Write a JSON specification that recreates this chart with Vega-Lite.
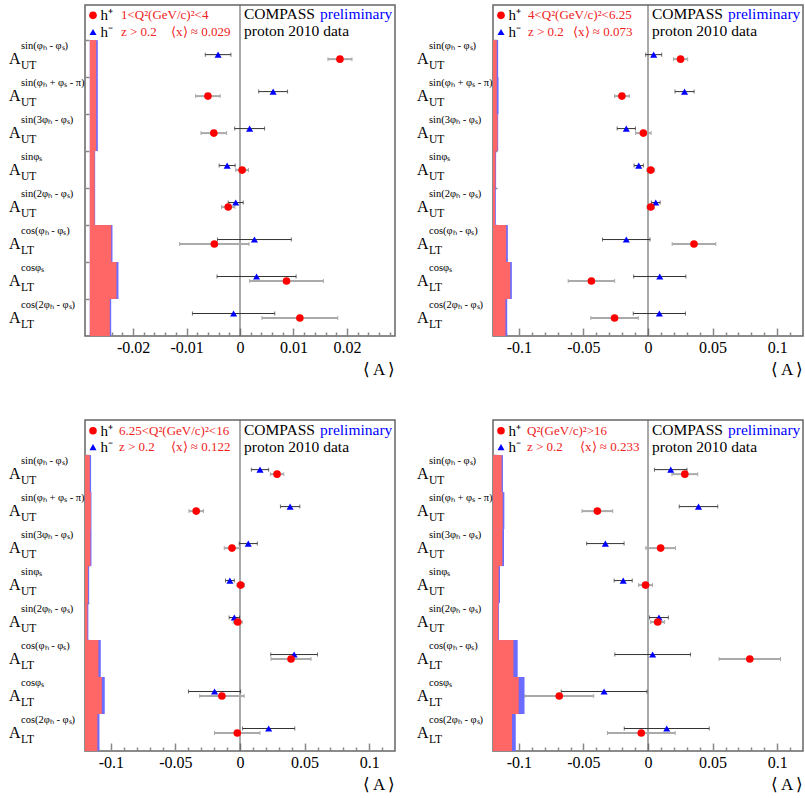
{
  "$schema": "https://vega.github.io/schema/vega-lite/v6.json",
  "background": "white",
  "padding": {"left": 8, "top": 3, "right": 0, "bottom": 0},
  "config": {
    "font": "Liberation Serif",
    "view": {"stroke": "#666", "strokeWidth": 1.5},
    "axis": {"grid": false, "labelFont": "Liberation Serif", "titleFont": "Liberation Serif"}
  },
  "datasets": {
    "labels": [
      {"row": 1, "base": "A", "sub": "UT", "sup": "sin(φₕ - φₛ)"},
      {"row": 2, "base": "A", "sub": "UT", "sup": "sin(φₕ + φₛ - π)"},
      {"row": 3, "base": "A", "sub": "UT", "sup": "sin(3φₕ - φₛ)"},
      {"row": 4, "base": "A", "sub": "UT", "sup": "sinφₛ"},
      {"row": 5, "base": "A", "sub": "UT", "sup": "sin(2φₕ - φₛ)"},
      {"row": 6, "base": "A", "sub": "LT", "sup": "cos(φₕ - φₛ)"},
      {"row": 7, "base": "A", "sub": "LT", "sup": "cosφₛ"},
      {"row": 8, "base": "A", "sub": "LT", "sup": "cos(2φₕ - φₛ)"}
    ],
    "p1": [
      {"row": 1, "hp": 0.0187, "hpe": 0.00225, "hm": -0.0041, "hme": 0.0024, "b0": -0.0281, "hpb": -0.0269, "hmb": -0.0266},
      {"row": 2, "hp": -0.0060, "hpe": 0.0023, "hm": 0.0062, "hme": 0.0027, "b0": -0.0281, "hpb": -0.0269, "hmb": -0.0266},
      {"row": 3, "hp": -0.0049, "hpe": 0.0024, "hm": 0.0018, "hme": 0.0028, "b0": -0.0281, "hpb": -0.0269, "hmb": -0.0266},
      {"row": 4, "hp": 0.0004, "hpe": 0.0012, "hm": -0.0024, "hme": 0.0015, "b0": -0.0281, "hpb": -0.0272, "hmb": -0.0271},
      {"row": 5, "hp": -0.0022, "hpe": 0.00125, "hm": -0.0008, "hme": 0.0014, "b0": -0.0281, "hpb": -0.0272, "hmb": -0.0271},
      {"row": 6, "hp": -0.0048, "hpe": 0.0065, "hm": 0.0027, "hme": 0.0069, "b0": -0.0281, "hpb": -0.0241, "hmb": -0.02386},
      {"row": 7, "hp": 0.0087, "hpe": 0.0069, "hm": 0.0031, "hme": 0.0074, "b0": -0.0281, "hpb": -0.02311, "hmb": -0.02274},
      {"row": 8, "hp": 0.0112, "hpe": 0.0071, "hm": -0.0012, "hme": 0.0077, "b0": -0.0281, "hpb": -0.02435, "hmb": -0.0241}
    ],
    "p2": [
      {"row": 1, "hp": 0.0252, "hpe": 0.0055, "hm": 0.0044, "hme": 0.0062, "b0": -0.12, "hpb": -0.1171, "hmb": -0.1160},
      {"row": 2, "hp": -0.0202, "hpe": 0.0057, "hm": 0.0283, "hme": 0.0074, "b0": -0.12, "hpb": -0.1171, "hmb": -0.1157},
      {"row": 3, "hp": -0.0036, "hpe": 0.0060, "hm": -0.0168, "hme": 0.0071, "b0": -0.12, "hpb": -0.1165, "hmb": -0.1160},
      {"row": 4, "hp": 0.0021, "hpe": 0.0030, "hm": -0.0072, "hme": 0.0036, "b0": -0.12, "hpb": -0.1181, "hmb": -0.1176},
      {"row": 5, "hp": 0.0021, "hpe": 0.0029, "hm": 0.0060, "hme": 0.0034, "b0": -0.12, "hpb": -0.1184, "hmb": -0.1178},
      {"row": 6, "hp": 0.0356, "hpe": 0.0169, "hm": -0.0168, "hme": 0.0184, "b0": -0.12, "hpb": -0.1098, "hmb": -0.1085},
      {"row": 7, "hp": -0.0438, "hpe": 0.0180, "hm": 0.0091, "hme": 0.0202, "b0": -0.12, "hpb": -0.1067, "hmb": -0.1054},
      {"row": 8, "hp": -0.0259, "hpe": 0.0184, "hm": 0.0088, "hme": 0.0202, "b0": -0.12, "hpb": -0.1103, "hmb": -0.1090}
    ],
    "p3": [
      {"row": 1, "hp": 0.0287, "hpe": 0.0052, "hm": 0.0155, "hme": 0.0067, "b0": -0.12, "hpb": -0.1163, "hmb": -0.1153},
      {"row": 2, "hp": -0.0339, "hpe": 0.0056, "hm": 0.0388, "hme": 0.0075, "b0": -0.12, "hpb": -0.1155, "hmb": -0.1150},
      {"row": 3, "hp": -0.0062, "hpe": 0.0060, "hm": 0.0064, "hme": 0.0070, "b0": -0.12, "hpb": -0.1158, "hmb": -0.1150},
      {"row": 4, "hp": 0.0005, "hpe": 0.0030, "hm": -0.0078, "hme": 0.0034, "b0": -0.12, "hpb": -0.1176, "hmb": -0.1168},
      {"row": 5, "hp": -0.0018, "hpe": 0.0035, "hm": -0.0044, "hme": 0.0040, "b0": -0.12, "hpb": -0.1181, "hmb": -0.1174},
      {"row": 6, "hp": 0.0395, "hpe": 0.0155, "hm": 0.0419, "hme": 0.0181, "b0": -0.12, "hpb": -0.1096, "hmb": -0.1078},
      {"row": 7, "hp": -0.0140, "hpe": 0.0172, "hm": -0.0197, "hme": 0.0202, "b0": -0.12, "hpb": -0.1070, "hmb": -0.1047},
      {"row": 8, "hp": -0.0021, "hpe": 0.0176, "hm": 0.0222, "hme": 0.0202, "b0": -0.12, "hpb": -0.1104, "hmb": -0.1088}
    ],
    "p4": [
      {"row": 1, "hp": 0.0285, "hpe": 0.0100, "hm": 0.0176, "hme": 0.0126, "b0": -0.12, "hpb": -0.1133, "hmb": -0.1123},
      {"row": 2, "hp": -0.0392, "hpe": 0.0119, "hm": 0.0391, "hme": 0.0149, "b0": -0.12, "hpb": -0.1125, "hmb": -0.1112},
      {"row": 3, "hp": 0.0098, "hpe": 0.0115, "hm": -0.0330, "hme": 0.0145, "b0": -0.12, "hpb": -0.1128, "hmb": -0.1115},
      {"row": 4, "hp": -0.0019, "hpe": 0.0054, "hm": -0.0192, "hme": 0.0070, "b0": -0.12, "hpb": -0.1156, "hmb": -0.1146},
      {"row": 5, "hp": 0.0075, "hpe": 0.0054, "hm": 0.0085, "hme": 0.0073, "b0": -0.12, "hpb": -0.1159, "hmb": -0.1154},
      {"row": 6, "hp": 0.0788, "hpe": 0.0238, "hm": 0.0036, "hme": 0.0293, "b0": -0.12, "hpb": -0.1042, "hmb": -0.1009},
      {"row": 7, "hp": -0.0687, "hpe": 0.0267, "hm": -0.0340, "hme": 0.0332, "b0": -0.12, "hpb": -0.1001, "hmb": -0.0956},
      {"row": 8, "hp": -0.0052, "hpe": 0.0262, "hm": 0.0145, "hme": 0.0329, "b0": -0.12, "hpb": -0.1053, "hmb": -0.1024}
    ]
  },
  "spacing": 40,
  "vconcat": [
    {
      "bounds": "flush",
      "spacing": 98,
      "hconcat": [
        {
          "width": 310, "height": 331,
          "resolve": {"axis": {"x": "independent"}},
          "layer": [
            {"data": {"values": [{}]}, "mark": {"type": "rule", "color": "#555", "strokeWidth": 1},
             "encoding": {"x": {"datum": 0, "type": "quantitative", "axis": {"orient": "bottom", "values": [-0.028,-0.026,-0.024,-0.022,-0.018,-0.016,-0.014,-0.012,-0.008,-0.006,-0.004,-0.002,0.002,0.004,0.006,0.008,0.012,0.014,0.016,0.018,0.022,0.024,0.026,0.028], "labels": false, "domain": false, "tickSize": -4, "tickColor": "#888", "tickWidth": 1.5, "title": null}}}},
            {"data": {"name": "p1"},
             "layer": [
              {"mark": {"type": "bar", "color": "#6b6bff", "size": 37},
               "encoding": {
                 "x": {"field": "b0", "type": "quantitative", "title": "⟨ A ⟩", "scale": {"domain": [-0.029, 0.029], "nice": false, "zero": false, "padding": 0},
                       "axis": {"orient": "bottom", "values": [-0.02,-0.01,0,0.01,0.02], "labelExpr": "datum.value == 0 ? '0' : (datum.value < 0 ? '-' : '') + format(abs(datum.value), '.2~f')", "domain": false, "tickSize": -8, "tickColor": "#888", "tickWidth": 1.5, "labelFontSize": 16, "labelColor": "#000", "labelPadding": 11, "labelFlush": false, "labelOverlap": false, "titleAnchor": "end", "titleAlign": "right", "titleFontSize": 17, "titleFontWeight": "normal", "titleColor": "#000", "titlePadding": 6}},
                 "x2": {"field": "hmb"},
                 "y": {"field": "row", "type": "quantitative", "title": null, "scale": {"domain": [-0.45, 8.5], "reverse": true, "nice": false, "zero": false, "padding": 0},
                       "axis": {"values": [0.5,1.5,2.5,3.5,4.5,5.5,6.5,7.5], "labels": false, "domain": false, "tickSize": -4, "tickColor": "#888", "tickWidth": 1.5}}
               }},
              {"mark": {"type": "bar", "color": "#ff6666", "size": 37},
               "encoding": {"x": {"field": "b0", "type": "quantitative", "title": "⟨ A ⟩"}, "x2": {"field": "hpb"}, "y": {"field": "row", "type": "quantitative", "title": null}}},
              {"mark": {"type": "errorbar", "ticks": {"size": 4, "color": "#333", "yOffset": -4}, "rule": {"color": "#333", "strokeWidth": 1, "yOffset": -4}},
               "encoding": {"x": {"field": "hm", "type": "quantitative", "title": "⟨ A ⟩"}, "xError": {"field": "hme"}, "y": {"field": "row", "type": "quantitative", "title": null}}},
              {"mark": {"type": "errorbar", "ticks": {"size": 4, "color": "#888", "yOffset": 0.5}, "rule": {"color": "#aaa", "strokeWidth": 2, "yOffset": 0.5}},
               "encoding": {"x": {"field": "hp", "type": "quantitative", "title": "⟨ A ⟩"}, "xError": {"field": "hpe"}, "y": {"field": "row", "type": "quantitative", "title": null}}},
              {"mark": {"type": "point", "shape": "triangle-up", "filled": true, "size": 50, "color": "#0000ff", "opacity": 1, "yOffset": -4},
               "encoding": {"x": {"field": "hm", "type": "quantitative", "title": "⟨ A ⟩"}, "y": {"field": "row", "type": "quantitative", "title": null}}},
              {"mark": {"type": "point", "shape": "circle", "filled": true, "size": 58, "color": "#ff0000", "opacity": 1, "yOffset": 0.5},
               "encoding": {"x": {"field": "hp", "type": "quantitative", "title": "⟨ A ⟩"}, "y": {"field": "row", "type": "quantitative", "title": null}}},
              {"data": {"name": "labels"}, "mark": {"type": "text", "align": "left", "baseline": "alphabetic", "dx": -76, "dy": 5.5, "fontSize": 16, "color": "#000"},
               "encoding": {"x": {"datum": -0.029, "type": "quantitative"}, "y": {"field": "row", "type": "quantitative", "title": null}, "text": {"field": "base"}}},
              {"data": {"name": "labels"}, "mark": {"type": "text", "align": "left", "baseline": "alphabetic", "dx": -64, "dy": -10, "fontSize": 10.5, "color": "#000"},
               "encoding": {"x": {"datum": -0.029, "type": "quantitative"}, "y": {"field": "row", "type": "quantitative", "title": null}, "text": {"field": "sup"}}},
              {"data": {"name": "labels"}, "mark": {"type": "text", "align": "left", "baseline": "alphabetic", "dx": -64, "dy": 10, "fontSize": 11.5, "color": "#000"},
               "encoding": {"x": {"datum": -0.029, "type": "quantitative"}, "y": {"field": "row", "type": "quantitative", "title": null}, "text": {"field": "sub"}}},
              {"data": {"values": [{}]}, "mark": {"type": "point", "shape": "circle", "filled": true, "size": 58, "color": "#ff0000", "opacity": 1, "xOffset": 8},
               "encoding": {"x": {"datum": -0.029, "type": "quantitative"}, "y": {"datum": -0.17, "type": "quantitative"}}},
              {"data": {"values": [{}]}, "mark": {"type": "point", "shape": "triangle-up", "filled": true, "size": 50, "color": "#0000ff", "opacity": 1, "xOffset": 8},
               "encoding": {"x": {"datum": -0.029, "type": "quantitative"}, "y": {"datum": 0.28, "type": "quantitative"}}},
              {"data": {"values": [{}]}, "mark": {"type": "text", "align": "left", "baseline": "middle", "dx": 15.5, "fontSize": 15, "color": "#000"},
               "encoding": {"x": {"datum": -0.029, "type": "quantitative"}, "y": {"datum": -0.17, "type": "quantitative"}, "text": {"value": "h⁺"}}},
              {"data": {"values": [{}]}, "mark": {"type": "text", "align": "left", "baseline": "middle", "dx": 15.5, "fontSize": 15, "color": "#000"},
               "encoding": {"x": {"datum": -0.029, "type": "quantitative"}, "y": {"datum": 0.28, "type": "quantitative"}, "text": {"value": "h⁻"}}},
              {"data": {"values": [{}]}, "mark": {"type": "text", "align": "left", "baseline": "middle", "dx": 36, "fontSize": 13, "color": "#ee2222"},
               "encoding": {"x": {"datum": -0.029, "type": "quantitative"}, "y": {"datum": -0.17, "type": "quantitative"}, "text": {"value": "1<Q²(GeV/c)²<4"}}},
              {"data": {"values": [{}]}, "mark": {"type": "text", "align": "left", "baseline": "middle", "dx": 36, "fontSize": 13, "color": "#ee2222"},
               "encoding": {"x": {"datum": -0.029, "type": "quantitative"}, "y": {"datum": 0.28, "type": "quantitative"}, "text": {"value": "z > 0.2"}}},
              {"data": {"values": [{}]}, "mark": {"type": "text", "align": "left", "baseline": "middle", "dx": 86, "fontSize": 13, "color": "#ee2222"},
               "encoding": {"x": {"datum": -0.029, "type": "quantitative"}, "y": {"datum": 0.28, "type": "quantitative"}, "text": {"value": "⟨x⟩ ≈ 0.029"}}},
              {"data": {"values": [{}]}, "mark": {"type": "text", "align": "left", "baseline": "middle", "dx": 4, "fontSize": 15.5, "color": "#000"},
               "encoding": {"x": {"datum": 0, "type": "quantitative"}, "y": {"datum": -0.2, "type": "quantitative"}, "text": {"value": "COMPASS"}}},
              {"data": {"values": [{}]}, "mark": {"type": "text", "align": "left", "baseline": "middle", "dx": 80, "fontSize": 15.5, "color": "#0000ff"},
               "encoding": {"x": {"datum": 0, "type": "quantitative"}, "y": {"datum": -0.2, "type": "quantitative"}, "text": {"value": "preliminary"}}},
              {"data": {"values": [{}]}, "mark": {"type": "text", "align": "left", "baseline": "middle", "dx": 4, "fontSize": 15.5, "color": "#000"},
               "encoding": {"x": {"datum": 0, "type": "quantitative"}, "y": {"datum": 0.26, "type": "quantitative"}, "text": {"value": "proton 2010 data"}}}
             ]}
          ]
        },
        {
          "width": 310, "height": 331,
          "resolve": {"axis": {"x": "independent"}},
          "layer": [
            {"data": {"values": [{}]}, "mark": {"type": "rule", "color": "#555", "strokeWidth": 1},
             "encoding": {"x": {"datum": 0, "type": "quantitative", "axis": {"orient": "bottom", "values": [-0.11,-0.09,-0.08,-0.07,-0.06,-0.04,-0.03,-0.02,-0.01,0.01,0.02,0.03,0.04,0.06,0.07,0.08,0.09,0.11], "labels": false, "domain": false, "tickSize": -4, "tickColor": "#888", "tickWidth": 1.5, "title": null}}}},
            {"data": {"name": "p2"},
             "layer": [
              {"mark": {"type": "bar", "color": "#6b6bff", "size": 37},
               "encoding": {
                 "x": {"field": "b0", "type": "quantitative", "title": "⟨ A ⟩", "scale": {"domain": [-0.12, 0.12], "nice": false, "zero": false, "padding": 0},
                       "axis": {"orient": "bottom", "values": [-0.1,-0.05,0,0.05,0.1], "labelExpr": "datum.value == 0 ? '0' : (datum.value < 0 ? '-' : '') + format(abs(datum.value), '.2~f')", "domain": false, "tickSize": -8, "tickColor": "#888", "tickWidth": 1.5, "labelFontSize": 16, "labelColor": "#000", "labelPadding": 11, "labelFlush": false, "labelOverlap": false, "titleAnchor": "end", "titleAlign": "right", "titleFontSize": 17, "titleFontWeight": "normal", "titleColor": "#000", "titlePadding": 6}},
                 "x2": {"field": "hmb"},
                 "y": {"field": "row", "type": "quantitative", "title": null, "scale": {"domain": [-0.45, 8.5], "reverse": true, "nice": false, "zero": false, "padding": 0},
                       "axis": {"values": [0.5,1.5,2.5,3.5,4.5,5.5,6.5,7.5], "labels": false, "domain": false, "tickSize": -4, "tickColor": "#888", "tickWidth": 1.5}}
               }},
              {"mark": {"type": "bar", "color": "#ff6666", "size": 37},
               "encoding": {"x": {"field": "b0", "type": "quantitative", "title": "⟨ A ⟩"}, "x2": {"field": "hpb"}, "y": {"field": "row", "type": "quantitative", "title": null}}},
              {"mark": {"type": "errorbar", "ticks": {"size": 4, "color": "#333", "yOffset": -4}, "rule": {"color": "#333", "strokeWidth": 1, "yOffset": -4}},
               "encoding": {"x": {"field": "hm", "type": "quantitative", "title": "⟨ A ⟩"}, "xError": {"field": "hme"}, "y": {"field": "row", "type": "quantitative", "title": null}}},
              {"mark": {"type": "errorbar", "ticks": {"size": 4, "color": "#888", "yOffset": 0.5}, "rule": {"color": "#aaa", "strokeWidth": 2, "yOffset": 0.5}},
               "encoding": {"x": {"field": "hp", "type": "quantitative", "title": "⟨ A ⟩"}, "xError": {"field": "hpe"}, "y": {"field": "row", "type": "quantitative", "title": null}}},
              {"mark": {"type": "point", "shape": "triangle-up", "filled": true, "size": 50, "color": "#0000ff", "opacity": 1, "yOffset": -4},
               "encoding": {"x": {"field": "hm", "type": "quantitative", "title": "⟨ A ⟩"}, "y": {"field": "row", "type": "quantitative", "title": null}}},
              {"mark": {"type": "point", "shape": "circle", "filled": true, "size": 58, "color": "#ff0000", "opacity": 1, "yOffset": 0.5},
               "encoding": {"x": {"field": "hp", "type": "quantitative", "title": "⟨ A ⟩"}, "y": {"field": "row", "type": "quantitative", "title": null}}},
              {"data": {"name": "labels"}, "mark": {"type": "text", "align": "left", "baseline": "alphabetic", "dx": -76, "dy": 5.5, "fontSize": 16, "color": "#000"},
               "encoding": {"x": {"datum": -0.12, "type": "quantitative"}, "y": {"field": "row", "type": "quantitative", "title": null}, "text": {"field": "base"}}},
              {"data": {"name": "labels"}, "mark": {"type": "text", "align": "left", "baseline": "alphabetic", "dx": -64, "dy": -10, "fontSize": 10.5, "color": "#000"},
               "encoding": {"x": {"datum": -0.12, "type": "quantitative"}, "y": {"field": "row", "type": "quantitative", "title": null}, "text": {"field": "sup"}}},
              {"data": {"name": "labels"}, "mark": {"type": "text", "align": "left", "baseline": "alphabetic", "dx": -64, "dy": 10, "fontSize": 11.5, "color": "#000"},
               "encoding": {"x": {"datum": -0.12, "type": "quantitative"}, "y": {"field": "row", "type": "quantitative", "title": null}, "text": {"field": "sub"}}},
              {"data": {"values": [{}]}, "mark": {"type": "point", "shape": "circle", "filled": true, "size": 58, "color": "#ff0000", "opacity": 1, "xOffset": 8},
               "encoding": {"x": {"datum": -0.12, "type": "quantitative"}, "y": {"datum": -0.17, "type": "quantitative"}}},
              {"data": {"values": [{}]}, "mark": {"type": "point", "shape": "triangle-up", "filled": true, "size": 50, "color": "#0000ff", "opacity": 1, "xOffset": 8},
               "encoding": {"x": {"datum": -0.12, "type": "quantitative"}, "y": {"datum": 0.28, "type": "quantitative"}}},
              {"data": {"values": [{}]}, "mark": {"type": "text", "align": "left", "baseline": "middle", "dx": 15.5, "fontSize": 15, "color": "#000"},
               "encoding": {"x": {"datum": -0.12, "type": "quantitative"}, "y": {"datum": -0.17, "type": "quantitative"}, "text": {"value": "h⁺"}}},
              {"data": {"values": [{}]}, "mark": {"type": "text", "align": "left", "baseline": "middle", "dx": 15.5, "fontSize": 15, "color": "#000"},
               "encoding": {"x": {"datum": -0.12, "type": "quantitative"}, "y": {"datum": 0.28, "type": "quantitative"}, "text": {"value": "h⁻"}}},
              {"data": {"values": [{}]}, "mark": {"type": "text", "align": "left", "baseline": "middle", "dx": 35, "fontSize": 13, "color": "#ee2222"},
               "encoding": {"x": {"datum": -0.12, "type": "quantitative"}, "y": {"datum": -0.17, "type": "quantitative"}, "text": {"value": "4<Q²(GeV/c)²<6.25"}}},
              {"data": {"values": [{}]}, "mark": {"type": "text", "align": "left", "baseline": "middle", "dx": 35, "fontSize": 13, "color": "#ee2222"},
               "encoding": {"x": {"datum": -0.12, "type": "quantitative"}, "y": {"datum": 0.28, "type": "quantitative"}, "text": {"value": "z > 0.2"}}},
              {"data": {"values": [{}]}, "mark": {"type": "text", "align": "left", "baseline": "middle", "dx": 80, "fontSize": 13, "color": "#ee2222"},
               "encoding": {"x": {"datum": -0.12, "type": "quantitative"}, "y": {"datum": 0.28, "type": "quantitative"}, "text": {"value": "⟨x⟩ ≈ 0.073"}}},
              {"data": {"values": [{}]}, "mark": {"type": "text", "align": "left", "baseline": "middle", "dx": 4, "fontSize": 15.5, "color": "#000"},
               "encoding": {"x": {"datum": 0, "type": "quantitative"}, "y": {"datum": -0.2, "type": "quantitative"}, "text": {"value": "COMPASS"}}},
              {"data": {"values": [{}]}, "mark": {"type": "text", "align": "left", "baseline": "middle", "dx": 80, "fontSize": 15.5, "color": "#0000ff"},
               "encoding": {"x": {"datum": 0, "type": "quantitative"}, "y": {"datum": -0.2, "type": "quantitative"}, "text": {"value": "preliminary"}}},
              {"data": {"values": [{}]}, "mark": {"type": "text", "align": "left", "baseline": "middle", "dx": 4, "fontSize": 15.5, "color": "#000"},
               "encoding": {"x": {"datum": 0, "type": "quantitative"}, "y": {"datum": 0.26, "type": "quantitative"}, "text": {"value": "proton 2010 data"}}}
             ]}
          ]
        }
      ]
    },
    {
      "bounds": "flush",
      "spacing": 98,
      "hconcat": [
        {
          "width": 310, "height": 331,
          "resolve": {"axis": {"x": "independent"}},
          "layer": [
            {"data": {"values": [{}]}, "mark": {"type": "rule", "color": "#555", "strokeWidth": 1},
             "encoding": {"x": {"datum": 0, "type": "quantitative", "axis": {"orient": "bottom", "values": [-0.11,-0.09,-0.08,-0.07,-0.06,-0.04,-0.03,-0.02,-0.01,0.01,0.02,0.03,0.04,0.06,0.07,0.08,0.09,0.11], "labels": false, "domain": false, "tickSize": -4, "tickColor": "#888", "tickWidth": 1.5, "title": null}}}},
            {"data": {"name": "p3"},
             "layer": [
              {"mark": {"type": "bar", "color": "#6b6bff", "size": 37},
               "encoding": {
                 "x": {"field": "b0", "type": "quantitative", "title": "⟨ A ⟩", "scale": {"domain": [-0.12, 0.12], "nice": false, "zero": false, "padding": 0},
                       "axis": {"orient": "bottom", "values": [-0.1,-0.05,0,0.05,0.1], "labelExpr": "datum.value == 0 ? '0' : (datum.value < 0 ? '-' : '') + format(abs(datum.value), '.2~f')", "domain": false, "tickSize": -8, "tickColor": "#888", "tickWidth": 1.5, "labelFontSize": 16, "labelColor": "#000", "labelPadding": 11, "labelFlush": false, "labelOverlap": false, "titleAnchor": "end", "titleAlign": "right", "titleFontSize": 17, "titleFontWeight": "normal", "titleColor": "#000", "titlePadding": 6}},
                 "x2": {"field": "hmb"},
                 "y": {"field": "row", "type": "quantitative", "title": null, "scale": {"domain": [-0.45, 8.5], "reverse": true, "nice": false, "zero": false, "padding": 0},
                       "axis": {"values": [0.5,1.5,2.5,3.5,4.5,5.5,6.5,7.5], "labels": false, "domain": false, "tickSize": -4, "tickColor": "#888", "tickWidth": 1.5}}
               }},
              {"mark": {"type": "bar", "color": "#ff6666", "size": 37},
               "encoding": {"x": {"field": "b0", "type": "quantitative", "title": "⟨ A ⟩"}, "x2": {"field": "hpb"}, "y": {"field": "row", "type": "quantitative", "title": null}}},
              {"mark": {"type": "errorbar", "ticks": {"size": 4, "color": "#333", "yOffset": -4}, "rule": {"color": "#333", "strokeWidth": 1, "yOffset": -4}},
               "encoding": {"x": {"field": "hm", "type": "quantitative", "title": "⟨ A ⟩"}, "xError": {"field": "hme"}, "y": {"field": "row", "type": "quantitative", "title": null}}},
              {"mark": {"type": "errorbar", "ticks": {"size": 4, "color": "#888", "yOffset": 0.5}, "rule": {"color": "#aaa", "strokeWidth": 2, "yOffset": 0.5}},
               "encoding": {"x": {"field": "hp", "type": "quantitative", "title": "⟨ A ⟩"}, "xError": {"field": "hpe"}, "y": {"field": "row", "type": "quantitative", "title": null}}},
              {"mark": {"type": "point", "shape": "triangle-up", "filled": true, "size": 50, "color": "#0000ff", "opacity": 1, "yOffset": -4},
               "encoding": {"x": {"field": "hm", "type": "quantitative", "title": "⟨ A ⟩"}, "y": {"field": "row", "type": "quantitative", "title": null}}},
              {"mark": {"type": "point", "shape": "circle", "filled": true, "size": 58, "color": "#ff0000", "opacity": 1, "yOffset": 0.5},
               "encoding": {"x": {"field": "hp", "type": "quantitative", "title": "⟨ A ⟩"}, "y": {"field": "row", "type": "quantitative", "title": null}}},
              {"data": {"name": "labels"}, "mark": {"type": "text", "align": "left", "baseline": "alphabetic", "dx": -76, "dy": 5.5, "fontSize": 16, "color": "#000"},
               "encoding": {"x": {"datum": -0.12, "type": "quantitative"}, "y": {"field": "row", "type": "quantitative", "title": null}, "text": {"field": "base"}}},
              {"data": {"name": "labels"}, "mark": {"type": "text", "align": "left", "baseline": "alphabetic", "dx": -64, "dy": -10, "fontSize": 10.5, "color": "#000"},
               "encoding": {"x": {"datum": -0.12, "type": "quantitative"}, "y": {"field": "row", "type": "quantitative", "title": null}, "text": {"field": "sup"}}},
              {"data": {"name": "labels"}, "mark": {"type": "text", "align": "left", "baseline": "alphabetic", "dx": -64, "dy": 10, "fontSize": 11.5, "color": "#000"},
               "encoding": {"x": {"datum": -0.12, "type": "quantitative"}, "y": {"field": "row", "type": "quantitative", "title": null}, "text": {"field": "sub"}}},
              {"data": {"values": [{}]}, "mark": {"type": "point", "shape": "circle", "filled": true, "size": 58, "color": "#ff0000", "opacity": 1, "xOffset": 8},
               "encoding": {"x": {"datum": -0.12, "type": "quantitative"}, "y": {"datum": -0.16, "type": "quantitative"}}},
              {"data": {"values": [{}]}, "mark": {"type": "point", "shape": "triangle-up", "filled": true, "size": 50, "color": "#0000ff", "opacity": 1, "xOffset": 8},
               "encoding": {"x": {"datum": -0.12, "type": "quantitative"}, "y": {"datum": 0.285, "type": "quantitative"}}},
              {"data": {"values": [{}]}, "mark": {"type": "text", "align": "left", "baseline": "middle", "dx": 15.5, "fontSize": 15, "color": "#000"},
               "encoding": {"x": {"datum": -0.12, "type": "quantitative"}, "y": {"datum": -0.16, "type": "quantitative"}, "text": {"value": "h⁺"}}},
              {"data": {"values": [{}]}, "mark": {"type": "text", "align": "left", "baseline": "middle", "dx": 15.5, "fontSize": 15, "color": "#000"},
               "encoding": {"x": {"datum": -0.12, "type": "quantitative"}, "y": {"datum": 0.285, "type": "quantitative"}, "text": {"value": "h⁻"}}},
              {"data": {"values": [{}]}, "mark": {"type": "text", "align": "left", "baseline": "middle", "dx": 34, "fontSize": 13, "color": "#ee2222"},
               "encoding": {"x": {"datum": -0.12, "type": "quantitative"}, "y": {"datum": -0.16, "type": "quantitative"}, "text": {"value": "6.25<Q²(GeV/c)²<16"}}},
              {"data": {"values": [{}]}, "mark": {"type": "text", "align": "left", "baseline": "middle", "dx": 34, "fontSize": 13, "color": "#ee2222"},
               "encoding": {"x": {"datum": -0.12, "type": "quantitative"}, "y": {"datum": 0.285, "type": "quantitative"}, "text": {"value": "z > 0.2"}}},
              {"data": {"values": [{}]}, "mark": {"type": "text", "align": "left", "baseline": "middle", "dx": 86, "fontSize": 13, "color": "#ee2222"},
               "encoding": {"x": {"datum": -0.12, "type": "quantitative"}, "y": {"datum": 0.285, "type": "quantitative"}, "text": {"value": "⟨x⟩ ≈ 0.122"}}},
              {"data": {"values": [{}]}, "mark": {"type": "text", "align": "left", "baseline": "middle", "dx": 4, "fontSize": 15.5, "color": "#000"},
               "encoding": {"x": {"datum": 0, "type": "quantitative"}, "y": {"datum": -0.19, "type": "quantitative"}, "text": {"value": "COMPASS"}}},
              {"data": {"values": [{}]}, "mark": {"type": "text", "align": "left", "baseline": "middle", "dx": 80, "fontSize": 15.5, "color": "#0000ff"},
               "encoding": {"x": {"datum": 0, "type": "quantitative"}, "y": {"datum": -0.19, "type": "quantitative"}, "text": {"value": "preliminary"}}},
              {"data": {"values": [{}]}, "mark": {"type": "text", "align": "left", "baseline": "middle", "dx": 4, "fontSize": 15.5, "color": "#000"},
               "encoding": {"x": {"datum": 0, "type": "quantitative"}, "y": {"datum": 0.27, "type": "quantitative"}, "text": {"value": "proton 2010 data"}}}
             ]}
          ]
        },
        {
          "width": 310, "height": 331,
          "resolve": {"axis": {"x": "independent"}},
          "layer": [
            {"data": {"values": [{}]}, "mark": {"type": "rule", "color": "#555", "strokeWidth": 1},
             "encoding": {"x": {"datum": 0, "type": "quantitative", "axis": {"orient": "bottom", "values": [-0.11,-0.09,-0.08,-0.07,-0.06,-0.04,-0.03,-0.02,-0.01,0.01,0.02,0.03,0.04,0.06,0.07,0.08,0.09,0.11], "labels": false, "domain": false, "tickSize": -4, "tickColor": "#888", "tickWidth": 1.5, "title": null}}}},
            {"data": {"name": "p4"},
             "layer": [
              {"mark": {"type": "bar", "color": "#6b6bff", "size": 37},
               "encoding": {
                 "x": {"field": "b0", "type": "quantitative", "title": "⟨ A ⟩", "scale": {"domain": [-0.12, 0.12], "nice": false, "zero": false, "padding": 0},
                       "axis": {"orient": "bottom", "values": [-0.1,-0.05,0,0.05,0.1], "labelExpr": "datum.value == 0 ? '0' : (datum.value < 0 ? '-' : '') + format(abs(datum.value), '.2~f')", "domain": false, "tickSize": -8, "tickColor": "#888", "tickWidth": 1.5, "labelFontSize": 16, "labelColor": "#000", "labelPadding": 11, "labelFlush": false, "labelOverlap": false, "titleAnchor": "end", "titleAlign": "right", "titleFontSize": 17, "titleFontWeight": "normal", "titleColor": "#000", "titlePadding": 6}},
                 "x2": {"field": "hmb"},
                 "y": {"field": "row", "type": "quantitative", "title": null, "scale": {"domain": [-0.45, 8.5], "reverse": true, "nice": false, "zero": false, "padding": 0},
                       "axis": {"values": [0.5,1.5,2.5,3.5,4.5,5.5,6.5,7.5], "labels": false, "domain": false, "tickSize": -4, "tickColor": "#888", "tickWidth": 1.5}}
               }},
              {"mark": {"type": "bar", "color": "#ff6666", "size": 37},
               "encoding": {"x": {"field": "b0", "type": "quantitative", "title": "⟨ A ⟩"}, "x2": {"field": "hpb"}, "y": {"field": "row", "type": "quantitative", "title": null}}},
              {"mark": {"type": "errorbar", "ticks": {"size": 4, "color": "#333", "yOffset": -4}, "rule": {"color": "#333", "strokeWidth": 1, "yOffset": -4}},
               "encoding": {"x": {"field": "hm", "type": "quantitative", "title": "⟨ A ⟩"}, "xError": {"field": "hme"}, "y": {"field": "row", "type": "quantitative", "title": null}}},
              {"mark": {"type": "errorbar", "ticks": {"size": 4, "color": "#888", "yOffset": 0.5}, "rule": {"color": "#aaa", "strokeWidth": 2, "yOffset": 0.5}},
               "encoding": {"x": {"field": "hp", "type": "quantitative", "title": "⟨ A ⟩"}, "xError": {"field": "hpe"}, "y": {"field": "row", "type": "quantitative", "title": null}}},
              {"mark": {"type": "point", "shape": "triangle-up", "filled": true, "size": 50, "color": "#0000ff", "opacity": 1, "yOffset": -4},
               "encoding": {"x": {"field": "hm", "type": "quantitative", "title": "⟨ A ⟩"}, "y": {"field": "row", "type": "quantitative", "title": null}}},
              {"mark": {"type": "point", "shape": "circle", "filled": true, "size": 58, "color": "#ff0000", "opacity": 1, "yOffset": 0.5},
               "encoding": {"x": {"field": "hp", "type": "quantitative", "title": "⟨ A ⟩"}, "y": {"field": "row", "type": "quantitative", "title": null}}},
              {"data": {"name": "labels"}, "mark": {"type": "text", "align": "left", "baseline": "alphabetic", "dx": -76, "dy": 5.5, "fontSize": 16, "color": "#000"},
               "encoding": {"x": {"datum": -0.12, "type": "quantitative"}, "y": {"field": "row", "type": "quantitative", "title": null}, "text": {"field": "base"}}},
              {"data": {"name": "labels"}, "mark": {"type": "text", "align": "left", "baseline": "alphabetic", "dx": -64, "dy": -10, "fontSize": 10.5, "color": "#000"},
               "encoding": {"x": {"datum": -0.12, "type": "quantitative"}, "y": {"field": "row", "type": "quantitative", "title": null}, "text": {"field": "sup"}}},
              {"data": {"name": "labels"}, "mark": {"type": "text", "align": "left", "baseline": "alphabetic", "dx": -64, "dy": 10, "fontSize": 11.5, "color": "#000"},
               "encoding": {"x": {"datum": -0.12, "type": "quantitative"}, "y": {"field": "row", "type": "quantitative", "title": null}, "text": {"field": "sub"}}},
              {"data": {"values": [{}]}, "mark": {"type": "point", "shape": "circle", "filled": true, "size": 58, "color": "#ff0000", "opacity": 1, "xOffset": 8},
               "encoding": {"x": {"datum": -0.12, "type": "quantitative"}, "y": {"datum": -0.16, "type": "quantitative"}}},
              {"data": {"values": [{}]}, "mark": {"type": "point", "shape": "triangle-up", "filled": true, "size": 50, "color": "#0000ff", "opacity": 1, "xOffset": 8},
               "encoding": {"x": {"datum": -0.12, "type": "quantitative"}, "y": {"datum": 0.285, "type": "quantitative"}}},
              {"data": {"values": [{}]}, "mark": {"type": "text", "align": "left", "baseline": "middle", "dx": 15.5, "fontSize": 15, "color": "#000"},
               "encoding": {"x": {"datum": -0.12, "type": "quantitative"}, "y": {"datum": -0.16, "type": "quantitative"}, "text": {"value": "h⁺"}}},
              {"data": {"values": [{}]}, "mark": {"type": "text", "align": "left", "baseline": "middle", "dx": 15.5, "fontSize": 15, "color": "#000"},
               "encoding": {"x": {"datum": -0.12, "type": "quantitative"}, "y": {"datum": 0.285, "type": "quantitative"}, "text": {"value": "h⁻"}}},
              {"data": {"values": [{}]}, "mark": {"type": "text", "align": "left", "baseline": "middle", "dx": 34, "fontSize": 13, "color": "#ee2222"},
               "encoding": {"x": {"datum": -0.12, "type": "quantitative"}, "y": {"datum": -0.16, "type": "quantitative"}, "text": {"value": "Q²(GeV/c)²>16"}}},
              {"data": {"values": [{}]}, "mark": {"type": "text", "align": "left", "baseline": "middle", "dx": 34, "fontSize": 13, "color": "#ee2222"},
               "encoding": {"x": {"datum": -0.12, "type": "quantitative"}, "y": {"datum": 0.285, "type": "quantitative"}, "text": {"value": "z > 0.2"}}},
              {"data": {"values": [{}]}, "mark": {"type": "text", "align": "left", "baseline": "middle", "dx": 87, "fontSize": 13, "color": "#ee2222"},
               "encoding": {"x": {"datum": -0.12, "type": "quantitative"}, "y": {"datum": 0.285, "type": "quantitative"}, "text": {"value": "⟨x⟩ ≈ 0.233"}}},
              {"data": {"values": [{}]}, "mark": {"type": "text", "align": "left", "baseline": "middle", "dx": 4, "fontSize": 15.5, "color": "#000"},
               "encoding": {"x": {"datum": 0, "type": "quantitative"}, "y": {"datum": -0.19, "type": "quantitative"}, "text": {"value": "COMPASS"}}},
              {"data": {"values": [{}]}, "mark": {"type": "text", "align": "left", "baseline": "middle", "dx": 80, "fontSize": 15.5, "color": "#0000ff"},
               "encoding": {"x": {"datum": 0, "type": "quantitative"}, "y": {"datum": -0.19, "type": "quantitative"}, "text": {"value": "preliminary"}}},
              {"data": {"values": [{}]}, "mark": {"type": "text", "align": "left", "baseline": "middle", "dx": 4, "fontSize": 15.5, "color": "#000"},
               "encoding": {"x": {"datum": 0, "type": "quantitative"}, "y": {"datum": 0.27, "type": "quantitative"}, "text": {"value": "proton 2010 data"}}}
             ]}
          ]
        }
      ]
    }
  ]
}
